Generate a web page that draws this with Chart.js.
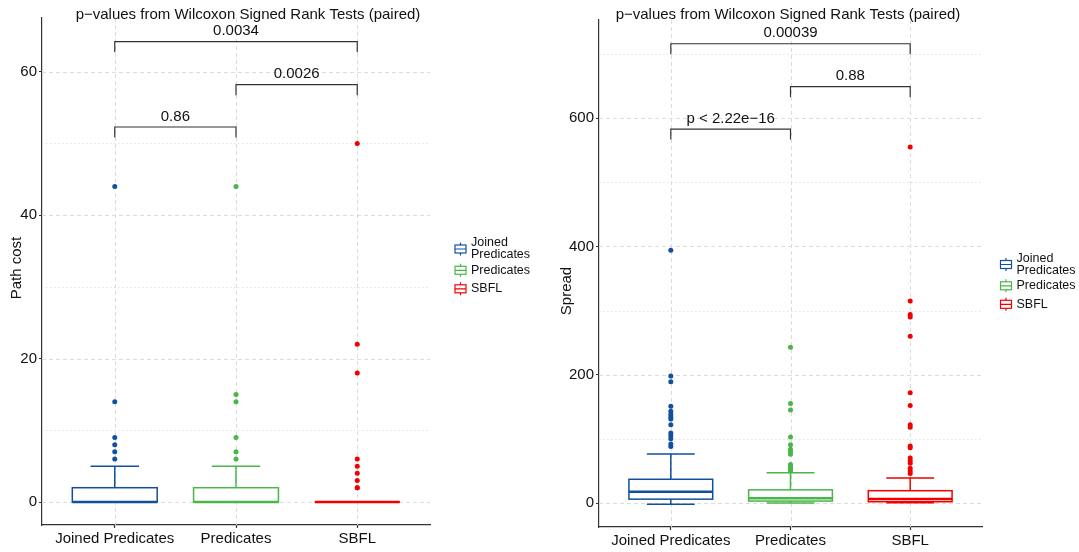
<!DOCTYPE html>
<html>
<head>
<meta charset="utf-8">
<title>Wilcoxon boxplots</title>
<script src="https://cdn.jsdelivr.net/npm/chart.js@4.4.1/dist/chart.umd.min.js"></script>
<style>
  body { margin: 0; background: #fff; }
  canvas { position: absolute; top: 0; }
</style>
</head>
<body>
<canvas id="cost" width="540" height="552" style="left:0"></canvas>
<canvas id="spread" width="539" height="552" style="left:540px"></canvas>
<script>
// groups
const categories = ["Joined Predicates", "Predicates", "SBFL"];
const legendLines = [["Joined", "Predicates"], ["Predicates"], ["SBFL"]];
const colors = ["#10509e", "#48b648", "#f20000"];
const pairs = [[1, 2], [2, 3], [1, 3]];
const title = "p\u2212values from Wilcoxon Signed Rank Tests (paired)";

// Path cost panel
const costLow = [0, 0, 0];
const costQ1 = [0, 0, 0];
const costMedian = [0, 0, 0];
const costQ3 = [2, 2, 0];
const costHigh = [5, 5, 0];
const costOutliers = [
  [6, 7, 8, 9, 14, 44],
  [6, 7, 9, 14, 15, 44],
  [2, 2, 3, 4, 5, 6, 18, 22, 50]
];
const costTicks = [0, 20, 40, 60];
const costPValues = ["0.86", "0.0026", "0.0034"];
const costBracketY = [52.3, 58.2, 64.2];

// Spread panel
const spreadLow = [-2, 0, 0.5];
const spreadQ1 = [6, 3, 2];
const spreadMedian = [17.6, 7.5, 6.2];
const spreadQ3 = [37, 20.5, 19.2];
const spreadHigh = [76.5, 47, 39];
const spreadOutliers = [
  [394, 198, 189, 151, 143, 138, 134, 131, 122, 109, 105, 100, 92, 88],
  [243, 155, 145, 103, 91, 84, 80, 76, 60, 57, 55, 52, 50],
  [555, 315, 294, 290, 260, 172, 152, 122, 118, 89, 86, 70, 66, 62, 54, 50, 46]
];
const spreadTicks = [0, 200, 400, 600];
const spreadPValues = ["p < 2.22e\u221216", "0.88", "0.00039"];
const spreadBracketY = [583, 649, 716];

const FONT = "'Liberation Sans', Arial, sans-serif";
const INK = "#111";

function boxPlugin(p) {
  return {
    id: "boxes",
    beforeDatasetsDraw(chart) {
      const { ctx, chartArea: a, scales: { x, y } } = chart;
      ctx.save();
      // background grid
      ctx.lineWidth = 1;
      const step = p.ticks[1] - p.ticks[0];
      p.ticks.forEach(t => {
        const py = Math.round(y.getPixelForValue(t)) + 0.5;
        ctx.strokeStyle = "#dcdcdc";
        ctx.setLineDash([4, 3]);
        ctx.beginPath(); ctx.moveTo(a.left, py); ctx.lineTo(a.right, py); ctx.stroke();
        const m = t + step / 2;
        if (m < y.max) {
          const my = Math.round(y.getPixelForValue(m)) + 0.5;
          ctx.strokeStyle = "#e2e2e2";
          ctx.setLineDash([1.5, 2.5]);
          ctx.beginPath(); ctx.moveTo(a.left, my); ctx.lineTo(a.right, my); ctx.stroke();
        }
      });
      ctx.strokeStyle = "#dcdcdc";
      ctx.setLineDash([4, 3]);
      categories.forEach((c, i) => {
        const px = Math.round(x.getPixelForValue(i + 1)) + 0.5;
        ctx.beginPath(); ctx.moveTo(px, a.top); ctx.lineTo(px, a.bottom); ctx.stroke();
      });
      ctx.setLineDash([]);

      // boxes and whiskers
      categories.forEach((c, i) => {
        const cx = x.getPixelForValue(i + 1);
        const bx0 = x.getPixelForValue(i + 1 - 0.35), bx1 = x.getPixelForValue(i + 1 + 0.35);
        const wx0 = x.getPixelForValue(i + 1 - 0.2), wx1 = x.getPixelForValue(i + 1 + 0.2);
        const yq1 = y.getPixelForValue(p.q1[i]), yq3 = y.getPixelForValue(p.q3[i]);
        const ymed = y.getPixelForValue(p.median[i]);
        const ylo = y.getPixelForValue(p.low[i]), yhi = y.getPixelForValue(p.high[i]);
        ctx.strokeStyle = colors[i];
        ctx.lineWidth = 1.5;
        ctx.beginPath();
        ctx.moveTo(cx, yq3); ctx.lineTo(cx, yhi);
        ctx.moveTo(wx0, yhi); ctx.lineTo(wx1, yhi);
        ctx.moveTo(cx, yq1); ctx.lineTo(cx, ylo);
        ctx.moveTo(wx0, ylo); ctx.lineTo(wx1, ylo);
        ctx.stroke();
        ctx.fillStyle = "#fff";
        ctx.fillRect(bx0, yq3, bx1 - bx0, yq1 - yq3);
        ctx.strokeRect(bx0, yq3, bx1 - bx0, yq1 - yq3);
        ctx.lineWidth = 2.4;
        ctx.beginPath(); ctx.moveTo(bx0, ymed); ctx.lineTo(bx1, ymed); ctx.stroke();
      });
      ctx.restore();
    },
    afterDraw(chart) {
      const { ctx, scales: { x, y } } = chart;
      ctx.save();
      ctx.fillStyle = INK;
      ctx.font = "15px " + FONT;
      ctx.textAlign = "center";
      ctx.textBaseline = "middle";
      ctx.fillText(title, p.titleX, 14.5);

      // significance brackets
      ctx.strokeStyle = "#333";
      ctx.lineWidth = 1.2;
      pairs.forEach((pr, k) => {
        const x0 = x.getPixelForValue(pr[0]), x1 = x.getPixelForValue(pr[1]);
        const by = y.getPixelForValue(p.bracketY[k]);
        ctx.beginPath();
        ctx.moveTo(x0, by + 10.5); ctx.lineTo(x0, by); ctx.lineTo(x1, by); ctx.lineTo(x1, by + 10.5);
        ctx.stroke();
        ctx.fillText(p.pValues[k], (x0 + x1) / 2, by - 10.5);
      });

      // y axis title
      ctx.save();
      ctx.translate(p.yTitleX, p.yTitleY);
      ctx.rotate(-Math.PI / 2);
      ctx.fillText(p.yTitle, 0, 0);
      ctx.restore();

      // legend
      ctx.font = "12.5px " + FONT;
      ctx.textAlign = "left";
      const offs = [0, 27.3, 45.8];
      categories.forEach((c, i) => {
        const lines = legendLines[i];
        const ty = p.legendTop + offs[i];
        lines.forEach((ln, j) => ctx.fillText(ln, p.legendX + 16.5, ty + j * 12));
        const cy = ty + (lines.length - 1) * 6;
        const ix = p.legendX;
        ctx.strokeStyle = colors[i];
        ctx.lineWidth = 1.2;
        ctx.strokeRect(ix + 0.5, cy - 4, 11, 8);
        ctx.beginPath();
        ctx.moveTo(ix + 0.5, cy); ctx.lineTo(ix + 11.5, cy);
        ctx.moveTo(ix + 6, cy - 6.5); ctx.lineTo(ix + 6, cy - 4);
        ctx.moveTo(ix + 6, cy + 4); ctx.lineTo(ix + 6, cy + 6.5);
        ctx.stroke();
      });
      ctx.restore();
    }
  };
}

function makeChart(id, p) {
  const datasets = categories.map((c, i) => ({
    label: c,
    data: p.outliers[i].map(v => ({ x: i + 1, y: v })),
    backgroundColor: colors[i],
    borderColor: colors[i],
    borderWidth: 0,
    pointRadius: 2.5
  }));
  return new Chart(document.getElementById(id), {
    type: "scatter",
    data: { datasets },
    options: {
      responsive: false,
      animation: false,
      layout: { padding: { top: p.top, right: p.right, left: 0, bottom: 0 } },
      plugins: { legend: { display: false }, tooltip: { enabled: false } },
      scales: {
        x: {
          type: "linear", min: 0.4, max: 3.6,
          afterBuildTicks: s => { s.ticks = categories.map((c, i) => ({ value: i + 1 })); },
          afterFit: s => { s.height = p.xHeight; },
          ticks: { callback: v => categories[v - 1], color: INK, font: { size: 15, family: FONT }, padding: 2, maxRotation: 0, autoSkip: false },
          grid: { drawOnChartArea: false, tickLength: 3, tickColor: "#333", tickWidth: 1.2 },
          border: { color: "#333", width: 1.2 }
        },
        y: {
          min: p.min, max: p.max,
          afterBuildTicks: s => { s.ticks = p.ticks.map(v => ({ value: v })); },
          afterFit: s => { s.width = p.yWidth; },
          ticks: { color: INK, font: { size: 15, family: FONT }, padding: 2 },
          grid: { drawOnChartArea: false, tickLength: 3, tickColor: "#333", tickWidth: 1.2 },
          border: { color: "#333", width: 1.2 }
        }
      }
    },
    plugins: [boxPlugin(p)]
  });
}

makeChart("cost", {
  low: costLow, q1: costQ1, median: costMedian, q3: costQ3, high: costHigh,
  outliers: costOutliers, ticks: costTicks, pValues: costPValues, bracketY: costBracketY,
  min: -3.2, max: 67.5, top: 18, right: 110, yWidth: 42, xHeight: 27,
  titleX: 248, yTitle: "Path cost", yTitleX: 17, yTitleY: 268,
  legendX: 454.5, legendTop: 243
});

makeChart("spread", {
  low: spreadLow, q1: spreadQ1, median: spreadMedian, q3: spreadQ3, high: spreadHigh,
  outliers: spreadOutliers, ticks: spreadTicks, pValues: spreadPValues, bracketY: spreadBracketY,
  min: -37.4, max: 753, top: 20, right: 97, yWidth: 59, xHeight: 25,
  titleX: 248, yTitle: "Spread", yTitleX: 26.5, yTitleY: 291,
  legendX: 460, legendTop: 258.5
});
</script>
</body>
</html>
